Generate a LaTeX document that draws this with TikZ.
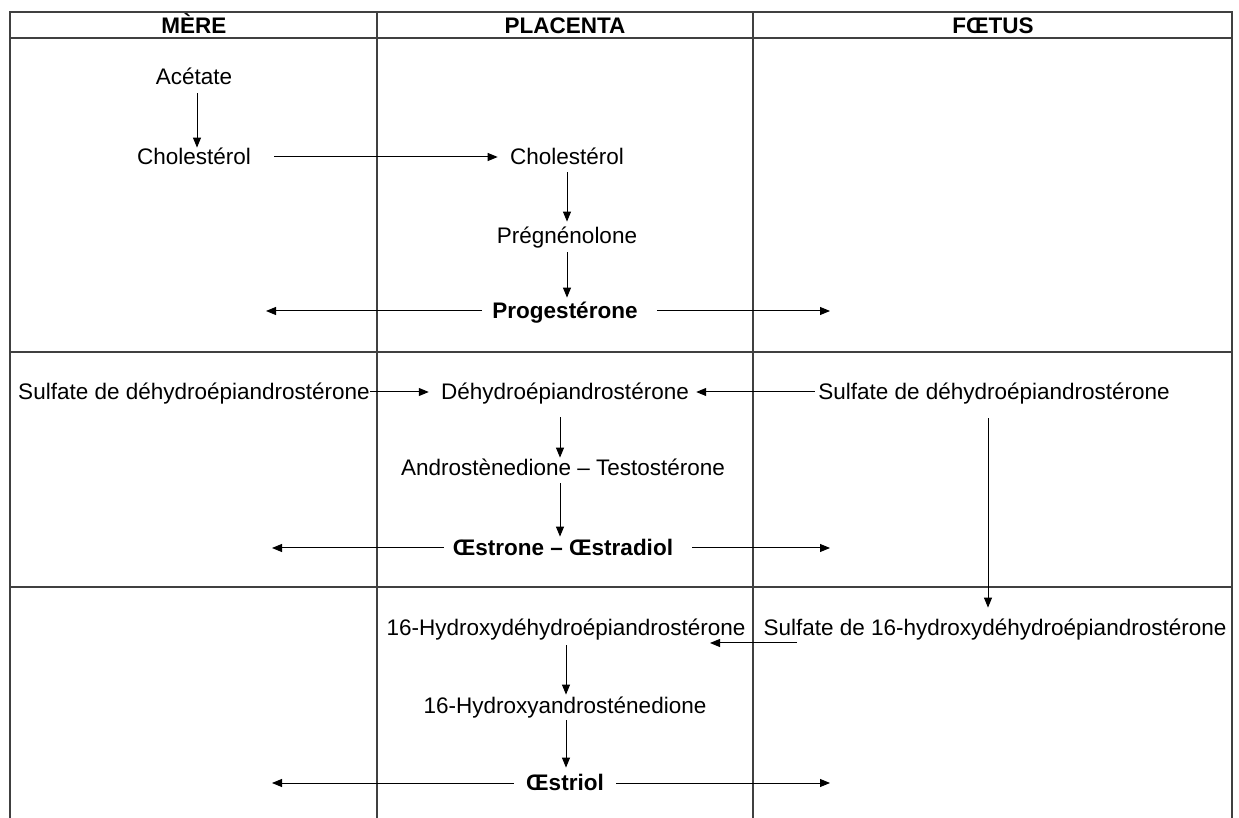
\documentclass[tikz,border=0pt]{standalone}
\usepackage{fontspec}
\setmainfont{Liberation Sans}
\usetikzlibrary{arrows.meta}

\begin{document}
\begin{tikzpicture}[x=0.5pt,y=-0.5pt,>={Triangle[length=5pt,width=4pt]},
  every node/.style={inner sep=0pt,text height=8pt,text depth=0pt,font=\fontsize{11.25}{13.5}\selectfont},
  hd/.style={font=\fontsize{11.25}{13.5}\selectfont\bfseries},
  grid/.style={line width=0.6pt,black!75}, arr/.style={->,line width=0.5pt}]
       \useasboundingbox (0,0) rectangle (1239,818);
       % table
       \draw[grid] (10,818) -- (10,12) -- (1232,12) -- (1232,818);
       \draw[grid] (10,38) -- (1232,38); \draw[grid] (10,352) -- (1232,352);
       \draw[grid] (10,587) -- (1232,587);
       \draw[grid] (377,12) -- (377,818); \draw[grid] (753,12) -- (753,818);
       \node[hd] (mere) at (194,26) {MÈRE}; \node[hd] (plac) at (565,26) {PLACENTA};
       \node[hd] (foetus) at (993,26) {FŒTUS};
       % progesterone
       \node (ace) at (194,77) {Acétate}; \node (cholM) at (194,157) {Cholestérol};
       \node (cholP) at (567,157) {Cholestérol}; \node (preg) at (567,236) {Prégnénolone};
       \node[hd] (prog) at (565,311) {Progestérone};
       \coordinate (progM) at (266,311); \coordinate (progF) at (830,311);
       \draw[arr,shorten <=4pt,shorten >=0.5pt] ([xshift=1.5pt]ace.south) -- ([xshift=1.5pt]ace.south |- cholM.north);
       \draw[arr,shorten <=11.5pt,shorten >=6pt] (cholM.east) -- (cholP.west);
       \draw[arr,shorten <=3.5pt,shorten >=3pt] (cholP.south) -- (cholP.south |- preg.north);
       \draw[arr,shorten <=4pt,shorten >=2.5pt] (preg.south) -- (preg.south |- prog.north);
       \draw[arr,shorten <=5pt] (prog.west) -- (progM);
       \draw[arr,shorten <=9.5pt] (prog.east) -- (progF);
       % oestrone - oestradiol
       \node (sdM) at (194,392) {Sulfate de déhydroépiandrostérone};
       \node (dhea) at (565,392) {Déhydroépiandrostérone};
       \node (sdF) at (994,392) {Sulfate de déhydroépiandrostérone};
       \node (andro) at (563,468) {Androstènedione – Testostérone};
       \node[hd] (oestr) at (563,548) {Œstrone – Œstradiol};
       \coordinate (oeM) at (272,548); \coordinate (oeF) at (830,548);
       \draw[arr,shorten >=6pt] (sdM.east) -- (dhea.west);
       \draw[arr,shorten <=1.5pt,shorten >=3.5pt] (sdF.west) -- (dhea.east);
       \draw[arr,shorten <=8.5pt,shorten >=1pt] ([xshift=-2.5pt]dhea.south) -- ([xshift=-2.5pt]dhea.south |- andro.north);
       \draw[arr,shorten <=3.5pt,shorten >=1.5pt] ([xshift=-1.5pt]andro.south) -- ([xshift=-1.5pt]andro.south |- oestr.north);
       \draw[arr,shorten <=4.5pt] (oestr.west) -- (oeM);
       \draw[arr,shorten <=9.5pt] (oestr.east) -- (oeF);
       % oestriol
       \node (hdhea) at (566,628) {16-Hydroxydéhydroépiandrostérone};
       \node (shdhea) at (995,628) {Sulfate de 16-hydroxydéhydroépiandrostérone};
       \node (hand) at (565,705) {16-Hydroxyandrosténedione};
       \node[hd] (oestriol) at (565,783) {Œstriol};
       \coordinate (hs1) at (797,643); \coordinate (hs2) at (710,643);
       \coordinate (otM) at (272,783); \coordinate (otF) at (830,783);
       \draw[arr,shorten <=9pt,shorten >=6pt] ([xshift=-3pt]sdF.south) -- ([xshift=-3pt]sdF.south |- shdhea.north);
       \draw[arr] (hs1) -- (hs2);
       \draw[arr,shorten <=4.5pt,shorten >=1pt] (hdhea.south) -- (hdhea.south |- hand.north);
       \draw[arr,shorten <=3.5pt,shorten >=3.5pt] ([xshift=0.5pt]hand.south) -- ([xshift=0.5pt]hand.south |- oestriol.north);
       \draw[arr,shorten <=6pt] (oestriol.west) -- (otM);
       \draw[arr,shorten <=6pt] (oestriol.east) -- (otF);
\end{tikzpicture}
\end{document}
